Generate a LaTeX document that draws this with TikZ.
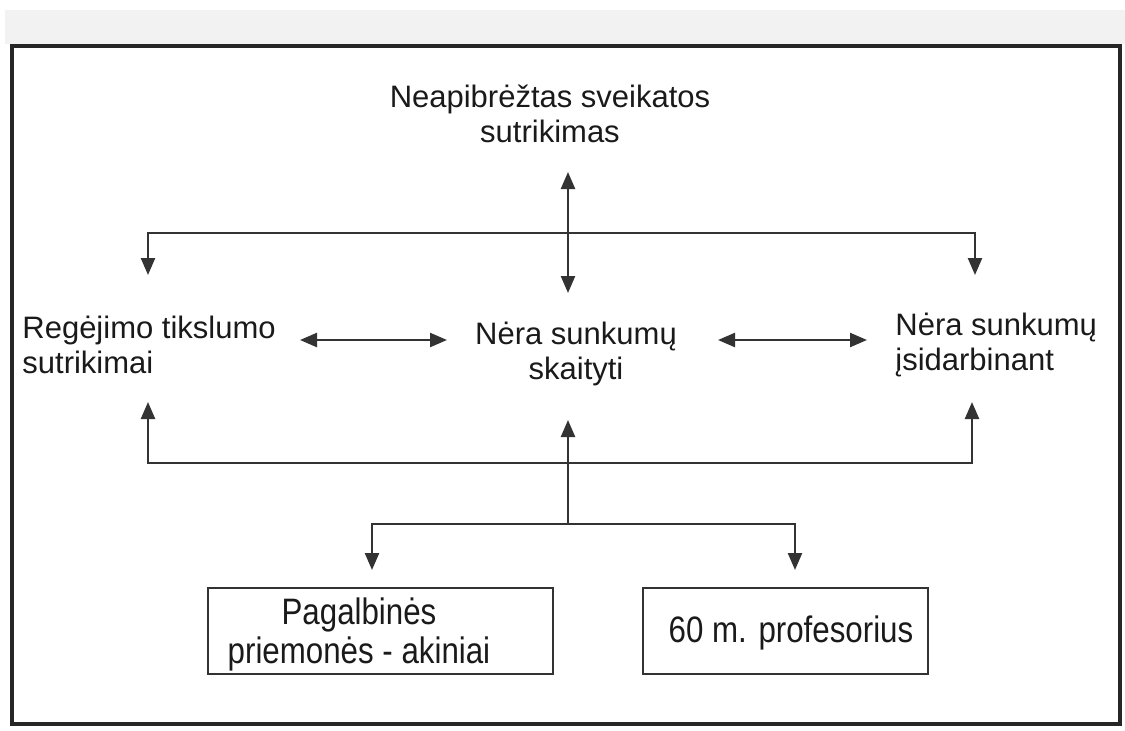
\documentclass[tikz,border=0pt]{standalone}
\usepackage{fontspec}
\setmainfont{Liberation Sans}
\newfontfamily\narrowfont[FakeStretch=0.85]{Liberation Sans}
\usetikzlibrary{arrows.meta}
\definecolor{inkline}{HTML}{333333}
\definecolor{inktext}{HTML}{1A1A1A}
\definecolor{topband}{HTML}{F2F2F2}

\begin{document}
\begin{tikzpicture}[x=0.5pt,y=-0.5pt,
  txt/.style={inner sep=0pt, text=inktext, font=\fontsize{15.5pt}{17.5pt}\selectfont},
  boxlabel/.style={inner sep=0pt, text=inktext, align=center,
    font=\narrowfont\fontsize{18.4pt}{19.5pt}\selectfont},
  boxframe/.style={draw=inkline, line width=1pt, inner sep=0pt},
  link/.style={draw=inkline, line width=1.2pt},
  twoway/.style={link, {Triangle[length=8.5pt,width=7pt]}-{Triangle[length=8.5pt,width=7pt]}},
  oneway/.style={link, -{Triangle[length=8.5pt,width=7pt]}},
]
% page, grey band and outer frame
\useasboundingbox (0,0) rectangle (1125,730);
\fill[white] (0,0) rectangle (1125,730);
\fill[topband] (5,10) rectangle (1125,44);
\draw[line width=2pt, black!85] (12,46) rectangle (1120,724);

% text nodes
\node[txt, align=center] (health) at (550,114) {Neapibrėžtas sveikatos\\sutrikimas};
\node[txt, align=left, anchor=west] (vision) at (22,345) {Regėjimo tikslumo\\sutrikimai};
\node[txt, align=center] (reading) at (576,354) {Nėra sunkumų\\skaityti};
\node[txt, align=left, anchor=west] (work) at (895,345) {Nėra sunkumų\\įsidarbinant};

% boxed nodes at the bottom
\node[boxframe, minimum width=172.5pt, minimum height=43pt] (aidsbox) at (380.5,631) {};
\node[boxlabel] (aids) at (359,634) {Pagalbinės\\priemonės - akiniai};
\node[boxframe, minimum width=142.5pt, minimum height=43pt] (profbox) at (785.5,631) {};
\node[boxlabel] (prof) at (791,633) {60 m. profesorius};

% connector end points
\coordinate (healthTip) at (568,172);
\coordinate (readingTop) at (568,293);
\coordinate (visionTop) at (148,275);
\coordinate (workTop) at (975,275);
\coordinate (busHigh) at (568,233);
\coordinate (visionRight) at (300,340);
\coordinate (readingLeft) at (447,340);
\coordinate (readingRight) at (718,340);
\coordinate (workLeft) at (867,340);
\coordinate (visionBottom) at (148,402);
\coordinate (workBottom) at (972,402);
\coordinate (readingBottom) at (568,420);
\coordinate (busLow) at (568,463);
\coordinate (split) at (568,524);
\coordinate (aidsTop) at (372,570);
\coordinate (profTop) at (795,570);

% connectors
\draw[twoway] (healthTip) -- (readingTop);
\draw[twoway] (visionTop) |- (busHigh) -| (workTop);
\draw[twoway] (visionRight) -- (readingLeft);
\draw[twoway] (readingRight) -- (workLeft);
\draw[twoway] (visionBottom) |- (busLow) -| (workBottom);
\draw[oneway] (split) -- (readingBottom);
\draw[twoway] (aidsTop) |- (split) -| (profTop);
\end{tikzpicture}
\end{document}
